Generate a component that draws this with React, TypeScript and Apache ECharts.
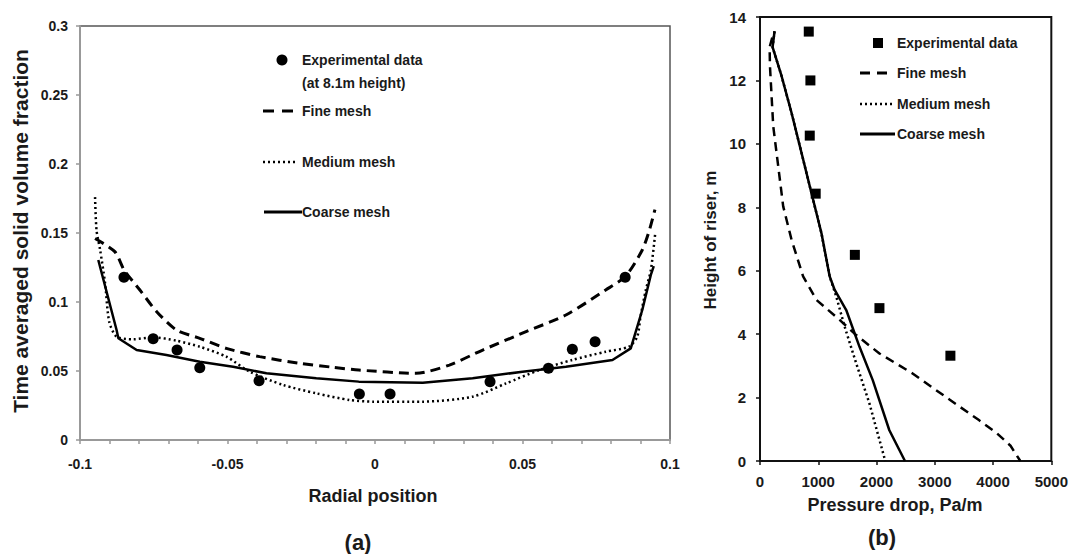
import React, { useEffect, useRef } from "react";
import * as echarts from "echarts";

// ---- Panel (a): radial profile ----
const expA: number[][] = [
  [-0.0851, 0.118], [-0.0752, 0.0734], [-0.0671, 0.0652], [-0.0594, 0.0524],
  [-0.0393, 0.043], [-0.0053, 0.0333], [0.0051, 0.0333], [0.039, 0.0423],
  [0.0588, 0.052], [0.0669, 0.0657], [0.0746, 0.0712], [0.0848, 0.118],
];
const fineA: number[][] = [
  [-0.0949, 0.146], [-0.0882, 0.1365], [-0.085, 0.123], [-0.0797, 0.1087],
  [-0.074, 0.093], [-0.0673, 0.0797], [-0.0594, 0.0737], [-0.0504, 0.0664],
  [-0.0391, 0.0604], [-0.0256, 0.0556], [-0.0143, 0.0527], [-0.0055, 0.0507],
  [0.0139, 0.0483], [0.0252, 0.0543], [0.0365, 0.0652], [0.0512, 0.0785],
  [0.0647, 0.0906], [0.0782, 0.1087], [0.085, 0.1188], [0.0906, 0.1377],
  [0.093, 0.152], [0.0949, 0.167],
];
const mediumA: number[][] = [
  [-0.0949, 0.176], [-0.0944, 0.152], [-0.0932, 0.138], [-0.0915, 0.1137],
  [-0.0901, 0.0857], [-0.0876, 0.0749], [-0.082, 0.073], [-0.0752, 0.0744],
  [-0.0673, 0.072], [-0.0594, 0.0676], [-0.0504, 0.0604], [-0.0425, 0.0495],
  [-0.0312, 0.0399], [-0.0199, 0.0338], [-0.0086, 0.029], [-0.0007, 0.0278],
  [0.0162, 0.0278], [0.0331, 0.0314], [0.0444, 0.041], [0.0557, 0.0507],
  [0.0669, 0.058], [0.0782, 0.064], [0.0861, 0.0676], [0.0889, 0.0749],
  [0.09, 0.0893], [0.0918, 0.1087], [0.0935, 0.123], [0.095, 0.15],
];
const coarseA: number[][] = [
  [-0.0938, 0.1304], [-0.0876, 0.0797], [-0.087, 0.0737], [-0.0808, 0.0652],
  [-0.0707, 0.0616], [-0.0594, 0.0567], [-0.0481, 0.0531], [-0.0368, 0.0483],
  [-0.0199, 0.0447], [-0.0055, 0.0423], [0.0162, 0.0415], [0.0331, 0.0447],
  [0.05, 0.0495], [0.0647, 0.0531], [0.0805, 0.058], [0.0867, 0.0664],
  [0.0906, 0.0942], [0.0935, 0.1196], [0.0945, 0.126],
];

// ---- Panel (b): pressure drop vs height ----
const expB: number[][] = [
  [837, 13.54], [865, 12.0], [854, 10.26], [956, 8.43], [1628, 6.5], [2050, 4.82], [3268, 3.32],
];
const fineB: number[][] = [
  [210, 13.35], [165, 13.05], [171, 12.45], [227, 10.56], [313, 9.29], [398, 8.03],
  [541, 6.98], [740, 5.82], [968, 5.08], [1366, 4.45], [1651, 3.97], [2050, 3.39],
  [2619, 2.76], [3188, 2.02], [3757, 1.29], [4050, 0.9], [4300, 0.48], [4468, 0],
];
const mediumB: number[][] = [
  [250, 13.55], [216, 13.05], [370, 12.14], [541, 10.98], [712, 9.72], [883, 8.45],
  [1054, 7.19], [1196, 5.82], [1310, 5.18], [1452, 4.24], [1651, 3.08], [1879, 1.81],
  [2150, 0],
];
const coarseB: number[][] = [
  [250, 13.55], [216, 13.05], [370, 12.14], [541, 10.98], [712, 9.72], [883, 8.45],
  [1054, 7.19], [1196, 5.82], [1280, 5.4], [1480, 4.76], [1708, 3.6], [1935, 2.55],
  [2220, 0.97], [2488, 0],
];

const legendA = ["Experimental data", "(at 8.1m height)", "Fine mesh", "Medium mesh", "Coarse mesh"];
const legendB = ["Experimental data", "Fine mesh", "Medium mesh", "Coarse mesh"];

const FONT = '"Liberation Sans", Arial, sans-serif';
const TXT = "#1a1a1a";

function txt(text: string, x: number, y: number, size: number, extra: any = {}) {
  return {
    type: "text",
    x,
    y,
    silent: true,
    ...extra,
    style: {
      text,
      fill: TXT,
      fontSize: size,
      fontWeight: "bold",
      fontFamily: FONT,
      textAlign: extra.align || "left",
      textVerticalAlign: "middle",
    },
  };
}
function seg(x1: number, y1: number, x2: number, y2: number, dash: any, w = 3) {
  return {
    type: "line",
    silent: true,
    shape: { x1, y1, x2, y2 },
    style: { stroke: "#000", lineWidth: w, lineDash: dash },
  };
}

export default function App() {
  const ref = useRef<HTMLDivElement>(null);
  useEffect(() => {
    if (!ref.current) return;
    const chart = echarts.init(ref.current, undefined, { renderer: "svg" });
    const labelA = { color: TXT, fontWeight: "bold", fontFamily: FONT, fontSize: 14 };
    const labelB = { color: TXT, fontWeight: "bold", fontFamily: FONT, fontSize: 15 };
    const lineCommon = { type: "line", symbol: "none", silent: true, z: 3 };
    chart.setOption({
      animation: false,
      backgroundColor: "#fff",
      grid: [
        { left: 80, top: 26, width: 590, height: 414, show: true, borderColor: "#555", borderWidth: 1.5, backgroundColor: "transparent" },
        { left: 760, top: 17, width: 293, height: 444, show: true, borderColor: "#111", borderWidth: 2, backgroundColor: "transparent" },
      ],
      xAxis: [
        {
          type: "value", gridIndex: 0, min: -0.1, max: 0.1, interval: 0.01,
          axisLine: { show: true, onZero: false, lineStyle: { color: "#999", width: 2 } },
          axisTick: { show: true, length: 4, lineStyle: { color: "#999", width: 1.5 } },
          axisLabel: {
            ...labelA, margin: 17, interval: 0, showMinLabel: true, showMaxLabel: true,
            formatter: (v: number) => {
              const k = Math.round(v * 100);
              return k % 5 === 0 ? String(k / 100) : "";
            },
          },
          splitLine: { show: false },
        },
        {
          type: "value", gridIndex: 1, min: 0, max: 5000, interval: 1000,
          axisLine: { show: true, onZero: false, lineStyle: { color: "#111", width: 2 } },
          axisTick: { show: true, length: 4, lineStyle: { color: "#111", width: 1.5 } },
          axisLabel: { ...labelB, margin: 13, formatter: (v: number) => String(Math.round(v)) },
          splitLine: { show: false },
        },
      ],
      yAxis: [
        {
          type: "value", gridIndex: 0, min: 0, max: 0.3, interval: 0.05,
          axisLine: { show: true, onZero: false, lineStyle: { color: "#999", width: 2 } },
          axisTick: { show: true, length: 4, lineStyle: { color: "#999", width: 1.5 } },
          axisLabel: { ...labelA, margin: 12 },
          splitLine: { show: false },
        },
        {
          type: "value", gridIndex: 1, min: 0, max: 14, interval: 2,
          axisLine: { show: true, onZero: false, lineStyle: { color: "#111", width: 2 } },
          axisTick: { show: true, length: 4, lineStyle: { color: "#111", width: 1.5 } },
          axisLabel: { ...labelB, margin: 14 },
          splitLine: { show: false },
        },
      ],
      series: [
        { ...lineCommon, name: "Fine mesh A", xAxisIndex: 0, yAxisIndex: 0, data: fineA, smooth: 0.25, lineStyle: { color: "#000", width: 3, type: [10, 6] } },
        { ...lineCommon, name: "Medium mesh A", xAxisIndex: 0, yAxisIndex: 0, data: mediumA, smooth: 0.25, lineStyle: { color: "#000", width: 2.5, type: [2, 3] } },
        { ...lineCommon, name: "Coarse mesh A", xAxisIndex: 0, yAxisIndex: 0, data: coarseA, lineStyle: { color: "#000", width: 2.5, type: "solid" } },
        { type: "scatter", name: "Experimental A", xAxisIndex: 0, yAxisIndex: 0, data: expA, symbol: "circle", symbolSize: 11, itemStyle: { color: "#000", opacity: 1 }, silent: true, z: 4 },
        { ...lineCommon, name: "Fine mesh B", xAxisIndex: 1, yAxisIndex: 1, data: fineB, lineStyle: { color: "#000", width: 2.5, type: [9, 6] } },
        { ...lineCommon, name: "Medium mesh B", xAxisIndex: 1, yAxisIndex: 1, data: mediumB, lineStyle: { color: "#000", width: 2.5, type: [2, 3] } },
        { ...lineCommon, name: "Coarse mesh B", xAxisIndex: 1, yAxisIndex: 1, data: coarseB, lineStyle: { color: "#000", width: 2.5, type: "solid" } },
        { type: "scatter", name: "Experimental B", xAxisIndex: 1, yAxisIndex: 1, data: expB, symbol: "rect", symbolSize: 10, itemStyle: { color: "#000", opacity: 1 }, silent: true, z: 4 },
      ],
      graphic: [
        // titles
        txt("Time averaged solid volume fraction", 20, 231, 21, { rotation: Math.PI / 2, align: "center" }),
        txt("Radial position", 373, 496, 18, { align: "center" }),
        txt("(a)", 358, 542, 22, { align: "center" }),
        txt("Height of riser, m", 710, 240, 17, { rotation: Math.PI / 2, align: "center" }),
        txt("Pressure drop, Pa/m", 895, 505, 18, { align: "center" }),
        txt("(b)", 882, 537, 22, { align: "center" }),
        // legend (a)
        { type: "circle", silent: true, shape: { cx: 282, cy: 60, r: 5.5 }, style: { fill: "#000" } },
        txt(legendA[0], 302, 60, 14),
        txt(legendA[1], 302, 83, 14),
        seg(263, 111, 298, 111, [11, 8]),
        txt(legendA[2], 302, 111, 14),
        seg(263, 162, 296, 162, [2, 3], 2.5),
        txt(legendA[3], 302, 162, 14),
        seg(264, 212, 302, 212, null, 3),
        txt(legendA[4], 302, 212, 14),
        // legend (b)
        { type: "rect", silent: true, shape: { x: 873, y: 38, width: 10, height: 10 }, style: { fill: "#000" } },
        txt(legendB[0], 897, 43, 14),
        seg(860, 73, 892, 73, [10, 7]),
        txt(legendB[1], 897, 73, 14),
        seg(860, 104, 892, 104, [2, 3], 2.5),
        txt(legendB[2], 897, 104, 14),
        seg(860, 134, 895, 134, null, 3),
        txt(legendB[3], 897, 134, 14),
      ],
    });
    return () => chart.dispose();
  }, []);
  return (
    <div
      ref={ref}
      style={{ position: "absolute", left: 0, top: 0, width: 1071, height: 554, background: "#fff" }}
    />
  );
}
